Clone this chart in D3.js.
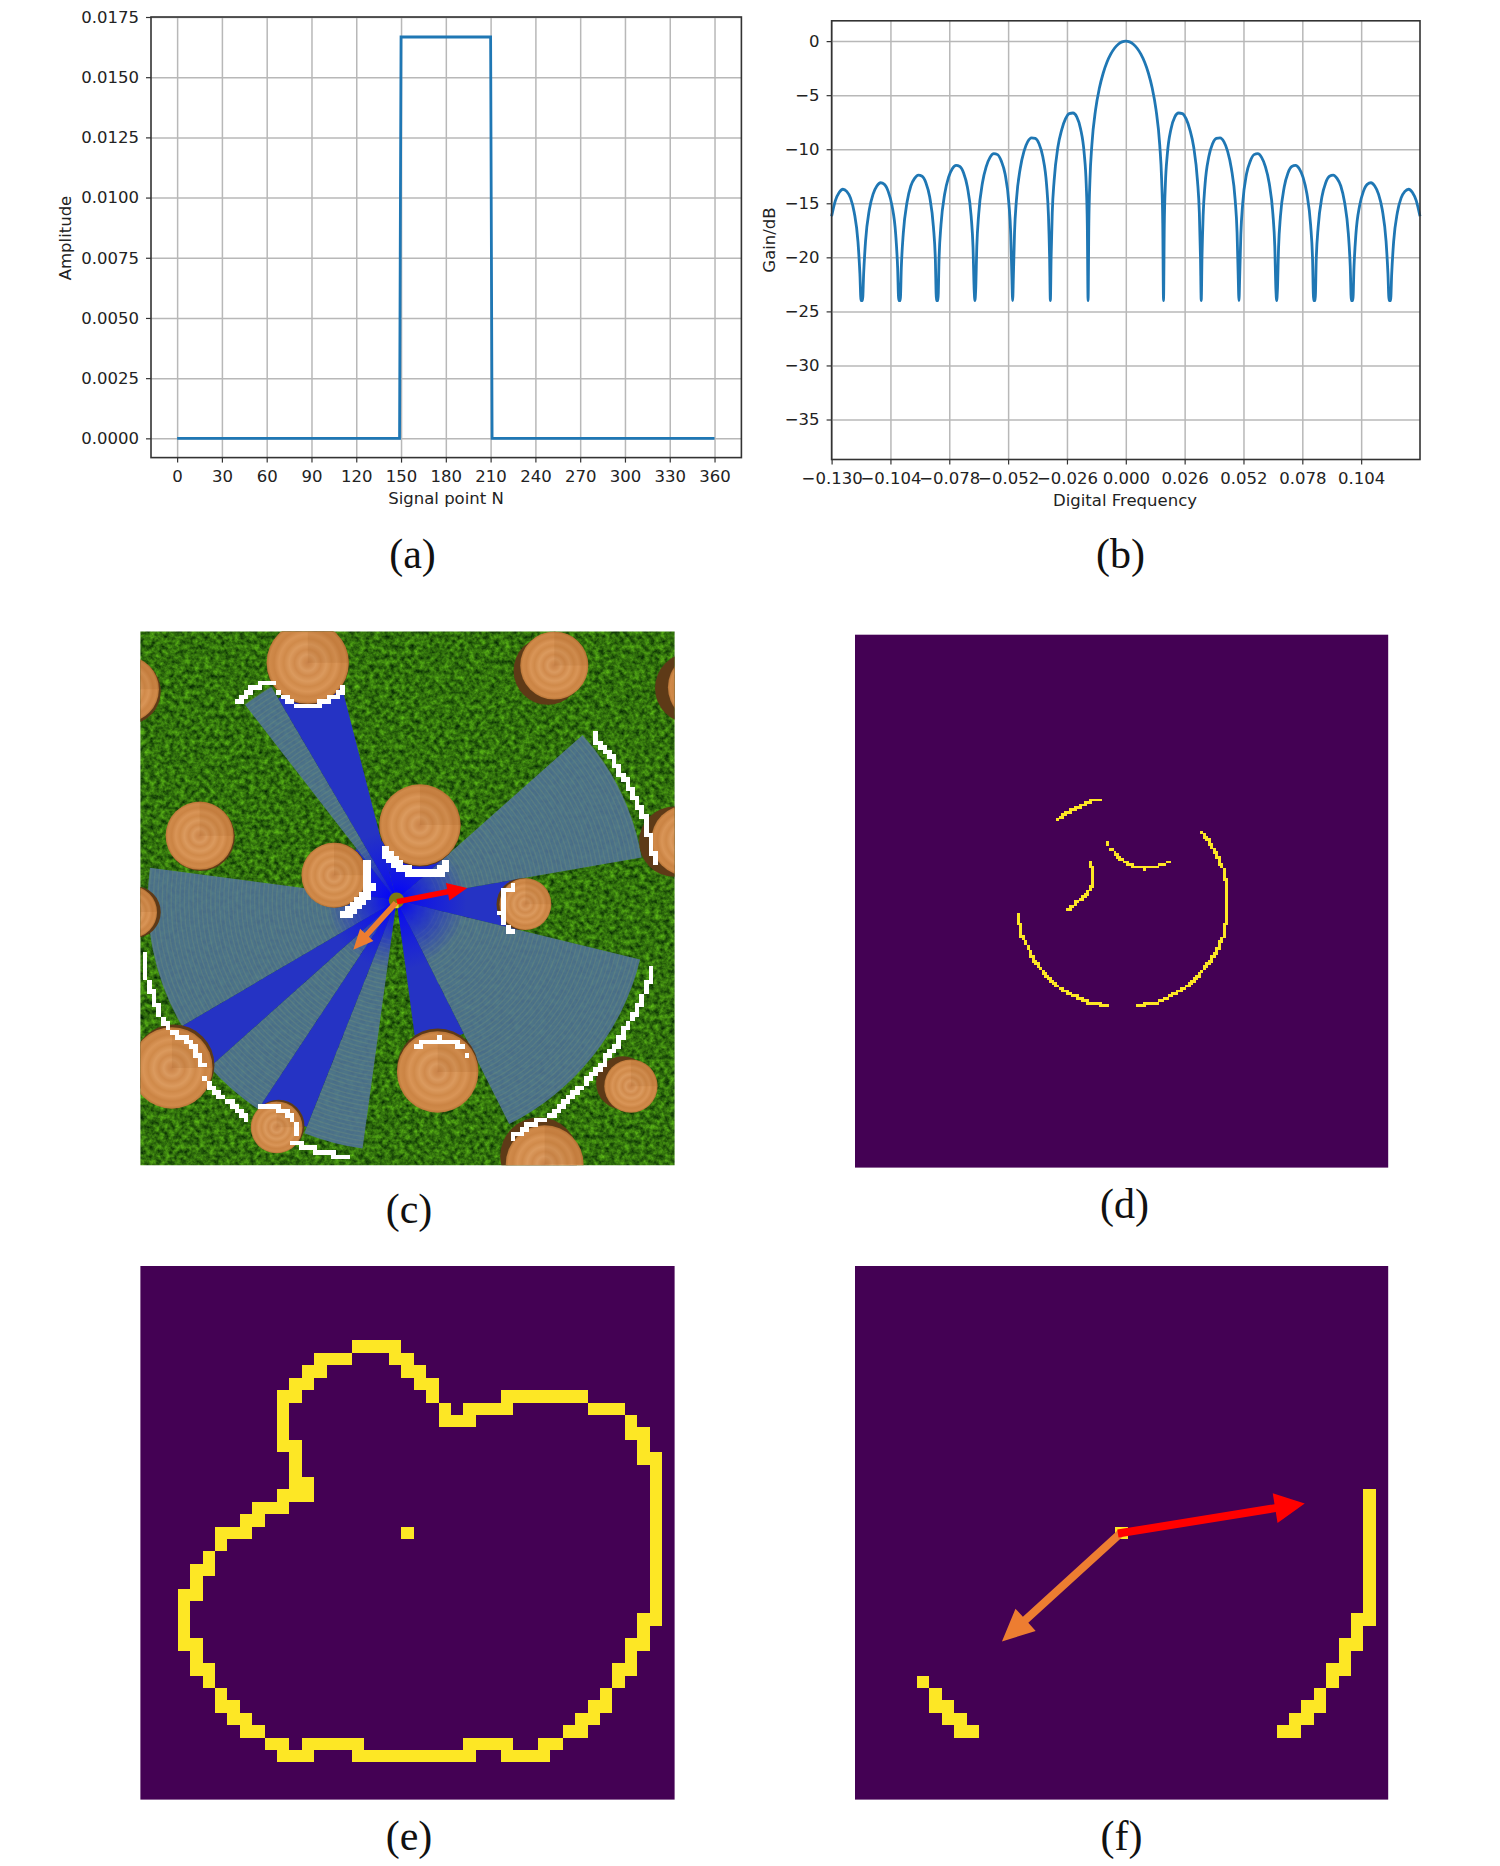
<!DOCTYPE html>
<html lang="en">

<head>
    <meta charset="UTF-8">
    <title>Panels a-f</title>
    <style>
        html, body { margin: 0; padding: 0; background: #fff; }
        text { font-family: "DejaVu Sans", sans-serif; fill: #222; }
        .caption { font-family: "Liberation Serif", serif; font-size: 42px; fill: #111; text-anchor: middle; }
    </style>
</head>

<body>
    <div id="my_dataviz"></div>
    <script src="https://d3js.org/d3.v7.min.js"></script>
    <script>

        // (a) rectangular window
        var windowN = [0, 149, 150, 210, 211, 360];
        var windowAmp = [0, 0, 0.01667, 0.01667, 0, 0];
        var windowXTicks = [0, 30, 60, 90, 120, 150, 180, 210, 240, 270, 300, 330, 360];
        var windowYTicks = [0, 0.0025, 0.005, 0.0075, 0.01, 0.0125, 0.015, 0.0175];

        // (b) gain curve, frequency read in bins of 1/60
        var gainBin = [-7.8, -7.7, -7.6, -7.5, -7.4, -7.3, -7.2, -7.1, -7.05, -7.02, -7,
            -6.98, -6.95, -6.9, -6.8, -6.7, -6.6, -6.5, -6.4, -6.3, -6.2, -6.1, -6.05, -6.02, -6,
            -5.98, -5.95, -5.9, -5.8, -5.7, -5.6, -5.5, -5.4, -5.3, -5.2, -5.1, -5.05, -5.02, -5,
            -4.98, -4.95, -4.9, -4.8, -4.7, -4.6, -4.5, -4.4, -4.3, -4.2, -4.1, -4.05, -4.02, -4,
            -3.98, -3.95, -3.9, -3.8, -3.7, -3.6, -3.5, -3.4, -3.3, -3.2, -3.1, -3.05, -3.02, -3,
            -2.98, -2.95, -2.9, -2.8, -2.7, -2.6, -2.5, -2.4, -2.3, -2.2, -2.1, -2.05, -2.02, -2,
            -1.98, -1.95, -1.9, -1.8, -1.7, -1.6, -1.5, -1.4, -1.3, -1.2, -1.1, -1.05, -1.02, -1,
            -0.98, -0.95, -0.9, -0.8, -0.7, -0.6, -0.5, -0.4, -0.3, -0.2, -0.1, 0,
            0.1, 0.2, 0.3, 0.4, 0.5, 0.6, 0.7, 0.8, 0.9, 0.95, 0.98,
            1, 1.02, 1.05, 1.1, 1.2, 1.3, 1.4, 1.5, 1.6, 1.7, 1.8, 1.9, 1.95, 1.98,
            2, 2.02, 2.05, 2.1, 2.2, 2.3, 2.4, 2.5, 2.6, 2.7, 2.8, 2.9, 2.95, 2.98,
            3, 3.02, 3.05, 3.1, 3.2, 3.3, 3.4, 3.5, 3.6, 3.7, 3.8, 3.9, 3.95, 3.98,
            4, 4.02, 4.05, 4.1, 4.2, 4.3, 4.4, 4.5, 4.6, 4.7, 4.8, 4.9, 4.95, 4.98,
            5, 5.02, 5.05, 5.1, 5.2, 5.3, 5.4, 5.5, 5.6, 5.7, 5.8, 5.9, 5.95, 5.98,
            6, 6.02, 6.05, 6.1, 6.2, 6.3, 6.4, 6.5, 6.6, 6.7, 6.8, 6.9, 6.95, 6.98,
            7, 7.02, 7.05, 7.1, 7.2, 7.3, 7.4, 7.5, 7.6, 7.7, 7.8];
        var gainDb = [-16.2, -14.75, -14.0, -13.7, -13.9, -14.5, -15.85, -18.6, -21.5, -24, -24,
            -24, -21.5, -18.5, -15.6, -14.15, -13.4, -13.1, -13.25, -13.9, -15.2, -17.9, -20.9, -24, -24,
            -24, -20.8, -17.8, -14.9, -13.4, -12.7, -12.4, -12.5, -13.1, -14.4, -17.2, -20.1, -24, -24,
            -24, -20.0, -17.0, -14.1, -12.6, -11.8, -11.5, -11.6, -12.2, -13.5, -16.2, -19.1, -23.0, -24,
            -23.0, -19.0, -16.0, -13.1, -11.6, -10.75, -10.4, -10.5, -11.1, -12.3, -15.0, -17.9, -21.8, -24,
            -21.7, -17.7, -14.7, -11.8, -10.2, -9.3, -8.95, -9.0, -9.5, -10.7, -13.3, -16.2, -20.0, -24,
            -20.0, -15.9, -12.9, -9.8, -8.2, -7.2, -6.7, -6.65, -7.0, -8.1, -10.5, -13.2, -17.1, -24,
            -16.9, -12.8, -9.62, -6.31, -4.34, -2.97, -1.96, -1.21, -0.66, -0.29, -0.07, 0,
            -0.07, -0.29, -0.66, -1.21, -1.96, -2.97, -4.34, -6.31, -9.62, -12.8, -16.9,
            -24, -17.1, -13.2, -10.5, -8.1, -7.0, -6.65, -6.7, -7.2, -8.2, -9.8, -12.9, -15.9, -20.0,
            -24, -20.0, -16.2, -13.3, -10.7, -9.5, -9.0, -8.95, -9.3, -10.2, -11.8, -14.7, -17.7, -21.7,
            -24, -21.8, -17.9, -15.0, -12.3, -11.1, -10.5, -10.4, -10.75, -11.6, -13.1, -16.0, -19.0, -23.0,
            -24, -23.0, -19.1, -16.2, -13.5, -12.2, -11.6, -11.5, -11.8, -12.6, -14.1, -17.0, -20.0, -24,
            -24, -24, -20.1, -17.2, -14.4, -13.1, -12.5, -12.4, -12.7, -13.4, -14.9, -17.8, -20.8, -24,
            -24, -24, -20.9, -17.9, -15.2, -13.9, -13.25, -13.1, -13.4, -14.15, -15.6, -18.5, -21.5, -24,
            -24, -24, -21.5, -18.6, -15.85, -14.5, -13.9, -13.7, -14.0, -14.75, -16.2];
        var gainXTicks = [-0.13, -0.104, -0.078, -0.052, -0.026, 0, 0.026, 0.052, 0.078, 0.104];
        var gainYTicks = [0, -5, -10, -15, -20, -25, -30, -35];

        // (c) scene, all read in one unit: 1443 across the panel, offset as read
        var stumpX = [507, 15, 1173, 1575, 215, 810, 578, 1095, 1530, 30, 140, 858, 423, 1380, 1147, 905];
        var stumpY = [108, 175, 115, 170, 545, 518, 645, 718, 557, 738, 1132, 1142, 1282, 1178, 1375, -75];
        var stumpR = [111, 90, 92, 95, 92, 110, 88, 70, 95, 70, 110, 110, 70, 72, 105, 105];
        var shadowX = [507, 20, 1155, 1540, 218, 810, 580, 1087, 1497, 40, 145, 858, 428, 1358, 1132, 905];
        var shadowY = [110, 180, 128, 172, 548, 520, 645, 718, 560, 738, 1125, 1135, 1278, 1170, 1355, -78];

        // sectors, degrees clockwise from north
        var farStart = [-37.8, 48.4, 103.7, 187.8, 213.5, 239.6];
        var farEnd = [-30.4, 80.1, 153.3, 201.6, 228.2, 277.5];
        var farReach = [668, 672, 677, 677, 677, 672];
        var nearStart = [-30.4, -14.4, 80.1, 153.3, 201.6, 228.2, 277.5];
        var nearEnd = [-14.4, 48.4, 103.7, 172.4, 213.5, 239.6, 322.2];
        var nearReach = [632, 165, 336, 403, 659, 669, 175];

        var whiteArcs = [
            [[320, 205], [335, 192], [345, 185], [365, 172], [390, 162], [410, 160]],
            [[428, 183], [436, 190]],
            [[450, 197], [463, 207]],
            [[480, 215], [530, 215], [545, 208], [560, 205], [572, 195], [585, 190], [595, 180], [605, 172]],
            [[1065, 675], [1050, 682], [1040, 690], [1035, 715], [1030, 740], [1038, 760], [1045, 775], [1062, 792]],
            [[1285, 290], [1290, 310], [1310, 328], [1330, 345], [1345, 380], [1365, 405], [1380, 425], [1395, 455], [1410, 485], [1425, 530], [1440, 590], [1452, 607]],
            [[1438, 878], [1425, 925], [1405, 965], [1390, 995], [1375, 1020], [1358, 1048], [1340, 1075], [1320, 1100], [1300, 1125], [1280, 1148], [1260, 1170], [1235, 1192], [1210, 1215], [1188, 1235], [1165, 1255], [1115, 1275], [1060, 1305]],
            [[800, 1075], [830, 1065], [860, 1060], [890, 1065], [920, 1075]],
            [[933, 1097], [936, 1100]],
            [[62, 845], [70, 900], [80, 925], [90, 950], [100, 975], [110, 1000], [130, 1035], [170, 1055], [200, 1080], [215, 1110], [228, 1130]],
            [[228, 1155], [240, 1172], [255, 1190], [290, 1215], [320, 1240], [345, 1262]],
            [[378, 1227], [420, 1228], [450, 1245], [465, 1262]],
            [[475, 1280], [475, 1295]],
            [[470, 1323], [520, 1338], [570, 1350], [620, 1358]]
        ];
        var whiteArcsThick = [
            [[708, 575], [725, 597], [745, 615], [770, 630], [795, 638], [840, 638], [865, 630], [878, 618]],
            [[665, 615], [665, 650], [672, 670], [655, 695], [630, 720], [605, 738]]
        ];
        var sceneOrigin = [747, 708];
        var sceneRed = [[748, 712], [938, 677]];
        var sceneOrange = [[745, 715], [630, 833]];

        // (d) returned points, fine grid, read as polylines
        var scanArcs = [
            [[173, 89], [187, 78], [205, 65], [225, 56], [240, 48], [257, 40], [272, 33], [296, 32]],
            [[322, 158], [325, 160]],
            [[333, 175], [347, 190], [358, 206], [375, 215], [392, 224], [403, 232], [418, 227], [430, 235], [460, 230]],
            [[472, 228], [490, 222]],
            [[503, 214], [506, 214]],
            [[267, 212], [270, 228], [277, 236], [276, 285], [262, 305], [248, 325], [230, 335], [220, 348], [205, 356]],
            [[606, 127], [620, 145], [632, 165], [648, 190], [660, 220], [672, 240], [673, 265], [680, 270], [680, 400], [672, 405], [672, 435], [660, 455], [648, 485], [635, 505], [620, 525], [600, 548], [575, 578], [545, 598], [520, 612], [490, 628], [465, 640], [435, 642], [430, 649], [408, 649]],
            [[55, 370], [55, 403], [63, 405], [65, 435], [85, 475], [100, 510], [125, 540], [160, 578], [190, 600], [225, 618], [255, 632], [270, 641], [298, 642], [302, 649], [320, 649]]
        ];

        // (e) occupied cells on the 43 x 43 map: row, first column, last column
        var outlineRuns = [
            [6, 17, 20], [7, 14, 16], [7, 20, 21], [8, 13, 14], [8, 21, 22], [9, 12, 13], [9, 22, 23],
            [10, 11, 12], [10, 23, 23], [10, 29, 35], [11, 11, 11], [11, 24, 24], [11, 26, 29], [11, 36, 38],
            [12, 11, 11], [12, 24, 26], [12, 39, 39], [13, 11, 11], [13, 39, 40], [14, 11, 12], [14, 40, 40],
            [15, 12, 12], [15, 40, 41], [16, 12, 12], [16, 41, 41], [17, 12, 13], [17, 41, 41],
            [18, 11, 13], [18, 41, 41], [19, 9, 11], [19, 41, 41], [20, 8, 9], [20, 41, 41],
            [21, 6, 8], [21, 21, 21], [21, 41, 41], [22, 6, 6], [22, 41, 41], [23, 5, 5], [23, 41, 41],
            [24, 4, 5], [24, 41, 41], [25, 4, 4], [25, 41, 41], [26, 3, 4], [26, 41, 41], [27, 3, 3], [27, 41, 41],
            [28, 3, 3], [28, 40, 41], [29, 3, 3], [29, 40, 40], [30, 3, 4], [30, 39, 40], [31, 4, 4], [31, 39, 39],
            [32, 4, 5], [32, 38, 39], [33, 5, 5], [33, 38, 38], [34, 6, 6], [34, 37, 37], [35, 6, 7], [35, 36, 37],
            [36, 7, 8], [36, 35, 36], [37, 8, 9], [37, 34, 35],
            [38, 10, 11], [38, 13, 17], [38, 26, 29], [38, 32, 33],
            [39, 11, 13], [39, 17, 26], [39, 29, 32]
        ];

        // (f) frontier cells and the two headings, in map cells
        var frontierRuns = [
            [18, 41, 41], [19, 41, 41], [20, 41, 41], [21, 21, 21], [21, 41, 41], [22, 41, 41], [23, 41, 41],
            [24, 41, 41], [25, 41, 41], [26, 41, 41], [27, 41, 41], [28, 40, 41], [29, 40, 40], [30, 39, 40],
            [31, 39, 39], [32, 38, 39], [33, 5, 5], [33, 38, 38], [34, 6, 6], [34, 37, 37], [35, 6, 7], [35, 36, 37],
            [36, 7, 8], [36, 35, 36], [37, 8, 9], [37, 34, 35]
        ];
        var mapRed = [[21.2, 21.56], [36.27, 19.13]];
        var mapOrange = [[21.5, 21.46], [11.85, 30.25]];

        var captions = ["(a)", "(b)", "(c)", "(d)", "(e)", "(f)"];

        var blue = "#1f77b4", purple = "#440154", yellow = "#fde725";

        var svg = d3.select("#my_dataviz")
            .append("svg")
            .attr("width", 1500)
            .attr("height", 1866);
        var defs = svg.append("defs");

        // line plots, both in the same matplotlib look
        function linePlot(box, x, y, xTicks, yTicks, xFormat, yFormat) {
            var g = svg.append("g");
            g.append("g")
                .attr("transform", "translate(0," + box.bottom + ")")
                .call(d3.axisBottom(x).tickValues(xTicks).tickSize(box.top - box.bottom).tickFormat(""))
                .call(function (s) { s.select(".domain").remove(); })
                .selectAll("line").attr("stroke", "#b8b8b8").attr("stroke-width", 1.5);
            g.append("g")
                .attr("transform", "translate(" + box.left + ",0)")
                .call(d3.axisLeft(y).tickValues(yTicks).tickSize(box.left - box.right).tickFormat(""))
                .call(function (s) { s.select(".domain").remove(); })
                .selectAll("line").attr("stroke", "#b8b8b8").attr("stroke-width", 1.5);

            var xAxis = g.append("g")
                .attr("transform", "translate(0," + box.bottom + ")")
                .call(d3.axisBottom(x).tickValues(xTicks).tickFormat(xFormat).tickSize(5).tickPadding(8).tickSizeOuter(0));
            var yAxis = g.append("g")
                .attr("transform", "translate(" + box.left + ",0)")
                .call(d3.axisLeft(y).tickValues(yTicks).tickFormat(yFormat).tickSize(5).tickPadding(7).tickSizeOuter(0));
            [xAxis, yAxis].forEach(function (a) {
                a.select(".domain").remove();
                a.selectAll("line").attr("stroke", "#333").attr("stroke-width", 1.2);
                a.selectAll("text").style("font-family", '"DejaVu Sans"').style("font-size", "16.5px").attr("fill", "#222");
            });
            return g;
        }

        function frame(g, box) {
            g.append("rect")
                .attr("x", box.left).attr("y", box.top)
                .attr("width", box.right - box.left).attr("height", box.bottom - box.top)
                .attr("fill", "none").attr("stroke", "#333").attr("stroke-width", 1.6);
        }

        function axisTitle(x, y, label, rotate) {
            svg.append("text")
                .attr("transform", "translate(" + x + "," + y + ")" + (rotate ? "rotate(-90)" : ""))
                .attr("text-anchor", "middle")
                .attr("dominant-baseline", "middle")
                .style("font-size", "16.5px")
                .text(label);
        }

        // (a)
        var boxA = { left: 151, right: 741.4, top: 17, bottom: 457.6 };
        var xA = d3.scaleLinear().domain([-17.5, 378]).range([boxA.left, boxA.right]);
        var yA = d3.scaleLinear().domain([-0.0008, 0.0175]).range([boxA.bottom, boxA.top]);
        var plotA = linePlot(boxA, xA, yA, windowXTicks, windowYTicks, d3.format("d"), d3.format(".4f"));
        plotA.append("path")
            .datum(windowN)
            .attr("fill", "none").attr("stroke", blue).attr("stroke-width", 2.8)
            .attr("d", d3.line().x(function (d) { return xA(d); }).y(function (d, i) { return yA(windowAmp[i]); }));
        frame(plotA, boxA);
        axisTitle(446, 499.6, "Signal point N");
        axisTitle(66, 238, "Amplitude", true);

        // (b)
        var boxB = { left: 831.6, right: 1420, top: 20.8, bottom: 459.5 };
        var xB = d3.scaleLinear().domain([-0.13, 0.13]).range([boxB.left, boxB.right]);
        var yB = d3.scaleLinear().domain([-38.7, 1.88]).range([boxB.bottom, boxB.top]);
        var plotB = linePlot(boxB, xB, yB, gainXTicks, gainYTicks, d3.format(".3f"), d3.format("d"));
        plotB.append("path")
            .datum(gainBin)
            .attr("fill", "none").attr("stroke", blue).attr("stroke-width", 2.8)
            .attr("d", d3.line().curve(d3.curveMonotoneX)
                .x(function (d) { return xB(d / 60); })
                .y(function (d, i) { return yB(gainDb[i]); }));
        frame(plotB, boxB);
        axisTitle(1125, 501, "Digital Frequency");
        axisTitle(770, 240, "Gain/dB", true);

        // image panels share one size
        var boxC = { left: 140.4, right: 674.6, top: 631.5, bottom: 1165.3 };
        var boxD = { left: 855, right: 1388.2, top: 634.7, bottom: 1167.6 };
        var boxE = { left: 140.4, right: 674.6, top: 1266, bottom: 1799.6 };
        var boxF = { left: 855, right: 1388.2, top: 1266, bottom: 1799.6 };

        function arrow(sel, p0, p1, colour, shaft, headLen, headWid) {
            var dx = p1[0] - p0[0], dy = p1[1] - p0[1], len = Math.hypot(dx, dy);
            var ux = dx / len, uy = dy / len, nx = -uy, ny = ux;
            var bx = p1[0] - ux * headLen, by = p1[1] - uy * headLen;
            var pts = [
                [p0[0] + nx * shaft / 2, p0[1] + ny * shaft / 2],
                [bx + nx * shaft / 2, by + ny * shaft / 2],
                [bx + nx * headWid / 2, by + ny * headWid / 2],
                p1,
                [bx - nx * headWid / 2, by - ny * headWid / 2],
                [bx - nx * shaft / 2, by - ny * shaft / 2],
                [p0[0] - nx * shaft / 2, p0[1] - ny * shaft / 2]
            ];
            sel.append("polygon").attr("points", pts.join(" ")).attr("fill", colour);
        }

        // walk a read polyline and paint the raster cells it passes through
        function pixelArc(sel, pts, cell, size, colour) {
            var seen = {};
            pts.slice(1).forEach(function (p, i) {
                var q = pts[i];
                var steps = Math.ceil(Math.hypot(p[0] - q[0], p[1] - q[1]) / (cell / 3)) || 1;
                d3.range(steps + 1).forEach(function (k) {
                    var cx = Math.floor((q[0] + (p[0] - q[0]) * k / steps) / cell);
                    var cy = Math.floor((q[1] + (p[1] - q[1]) * k / steps) / cell);
                    if (seen[cx + "," + cy]) return;
                    seen[cx + "," + cy] = true;
                    sel.append("rect")
                        .attr("x", cx * cell).attr("y", cy * cell)
                        .attr("width", size).attr("height", size)
                        .attr("fill", colour)
                        .style("shape-rendering", "crispEdges");
                });
            });
        }

        // (c) grass from noise
        var grass = defs.append("filter").attr("id", "grass")
            .attr("x", 0).attr("y", 0).attr("width", 1).attr("height", 1)
            .attr("color-interpolation-filters", "sRGB");
        grass.append("feTurbulence")
            .attr("type", "fractalNoise").attr("baseFrequency", 0.2).attr("numOctaves", 3).attr("seed", 7);
        grass.append("feColorMatrix").attr("type", "matrix")
            .attr("values", "0.45 0 0 0 -0.03  0.75 0 0 0 0.07  0.1 0 0 0 0  0 0 0 0 1");

        defs.append("clipPath").attr("id", "sceneClip").append("rect")
            .attr("x", boxC.left).attr("y", boxC.top)
            .attr("width", boxC.right - boxC.left).attr("height", boxC.bottom - boxC.top);

        var sceneX = d3.scaleLinear().domain([55, 1498]).range([boxC.left, boxC.right]);
        var sceneY = d3.scaleLinear().domain([29, 1378]).range([boxC.top, boxC.bottom]);
        var sceneR = d3.scaleLinear().domain([0, 1443]).range([0, boxC.right - boxC.left]);

        var ox = sceneX(sceneOrigin[0]), oy = sceneY(sceneOrigin[1]);

        // rays pile up towards the robot
        var glow = defs.append("radialGradient").attr("id", "glow")
            .attr("gradientUnits", "userSpaceOnUse").attr("cx", 0).attr("cy", 0).attr("r", 70);
        glow.append("stop").attr("offset", 0).attr("stop-color", "#0000ff").attr("stop-opacity", 1);
        glow.append("stop").attr("offset", 0.3).attr("stop-color", "#0808f5").attr("stop-opacity", 0.7);
        glow.append("stop").attr("offset", 1).attr("stop-color", "#0808f5").attr("stop-opacity", 0);

        var wood = defs.append("radialGradient").attr("id", "wood");
        [[0, "#c9834a"], [0.1, "#d18c50"], [0.2, "#da9a60"], [0.32, "#d08a4c"], [0.45, "#db9a5e"],
            [0.58, "#d08a4a"], [0.7, "#d99557"], [0.82, "#cb8444"], [0.93, "#d08a4a"], [1, "#b97536"]]
            .forEach(function (s) {
                wood.append("stop").attr("offset", s[0]).attr("stop-color", s[1]);
            });

        var scene = svg.append("g").attr("clip-path", "url(#sceneClip)");
        scene.append("rect")
            .attr("x", boxC.left).attr("y", boxC.top)
            .attr("width", boxC.right - boxC.left).attr("height", boxC.bottom - boxC.top)
            .attr("filter", "url(#grass)");

        var rad = Math.PI / 180;
        var sectorArc = d3.arc().innerRadius(0);
        var sectors = scene.append("g").attr("transform", "translate(" + ox + "," + oy + ")");

        farStart.forEach(function (a, i) {
            var r = sceneR(farReach[i]);
            sectors.append("path")
                .attr("d", sectorArc({ startAngle: a * rad, endAngle: farEnd[i] * rad, outerRadius: r }))
                .attr("fill", "#4f7296").attr("fill-opacity", 0.9);
            // faint range rings left by the scan
            d3.range(40, r, 4.4).forEach(function (ring) {
                sectors.append("path")
                    .attr("d", d3.arc().innerRadius(ring).outerRadius(ring + 1.4)({ startAngle: a * rad, endAngle: farEnd[i] * rad }))
                    .attr("fill", "#7f9a78").attr("fill-opacity", 0.25);
            });
        });
        nearStart.forEach(function (a, i) {
            sectors.append("path")
                .attr("d", sectorArc({ startAngle: a * rad, endAngle: nearEnd[i] * rad, outerRadius: sceneR(nearReach[i]) }))
                .attr("fill", "#2533c4");
        });
        farStart.concat(nearStart).forEach(function (a, i) {
            var end = farEnd.concat(nearEnd)[i];
            sectors.append("path")
                .attr("d", sectorArc({ startAngle: a * rad, endAngle: end * rad, outerRadius: 70 }))
                .attr("fill", "url(#glow)");
        });

        stumpX.forEach(function (cx, i) {
            scene.append("circle")
                .attr("cx", sceneX(shadowX[i])).attr("cy", sceneY(shadowY[i]))
                .attr("r", sceneR(stumpR[i]))
                .attr("fill", "#5e3a17");
            // the top of the log sits over its own side
            scene.append("circle")
                .attr("cx", sceneX(cx)).attr("cy", sceneY(stumpY[i]))
                .attr("r", sceneR(stumpR[i]))
                .attr("fill", "url(#wood)");
            scene.append("path")
                .attr("transform", "translate(" + sceneX(cx) + "," + sceneY(stumpY[i]) + ")")
                .attr("d", d3.arc().innerRadius(0).outerRadius(sceneR(stumpR[i]))({ startAngle: 0, endAngle: Math.PI / 2 }))
                .attr("fill", "#8a4a14").attr("fill-opacity", 0.12);
        });

        function scenePoints(a) {
            return a.map(function (p) { return [sceneX(p[0]), sceneY(p[1])]; });
        }
        whiteArcs.forEach(function (a) { pixelArc(scene, scenePoints(a), 4.6, 4.6, "#fff"); });
        whiteArcsThick.forEach(function (a) { pixelArc(scene, scenePoints(a), 4.6, 7.5, "#fff"); });

        scene.append("circle").attr("cx", ox).attr("cy", oy).attr("r", sceneR(21)).attr("fill", "#7d7a12");
        scene.append("rect").attr("x", ox - 2).attr("y", oy + 3).attr("width", 4).attr("height", 5).attr("fill", "#e8e020");
        arrow(scene, scenePoints(sceneOrange)[0], scenePoints(sceneOrange)[1], "#ed7d31", 5.6, 20, 18);
        arrow(scene, scenePoints(sceneRed)[0], scenePoints(sceneRed)[1], "#ff0000", 5.6, 20, 18);

        // (d)
        var scanX = d3.scaleLinear().domain([0, 780]).range([1000, 1260]);
        var scanY = d3.scaleLinear().domain([0, 750]).range([790, 1040]);
        svg.append("rect")
            .attr("x", boxD.left).attr("y", boxD.top)
            .attr("width", boxD.right - boxD.left).attr("height", boxD.bottom - boxD.top)
            .attr("fill", purple);
        scanArcs.forEach(function (a) {
            pixelArc(svg, a.map(function (p) { return [scanX(p[0]), scanY(p[1])]; }), 2.48, 2.9, yellow);
        });

        // (e), (f)
        function mapPanel(box, runs) {
            var x = d3.scaleLinear().domain([0, 43]).range([box.left, box.right]);
            var y = d3.scaleLinear().domain([0, 43]).range([box.top, box.bottom]);
            svg.append("rect")
                .attr("x", box.left).attr("y", box.top)
                .attr("width", box.right - box.left).attr("height", box.bottom - box.top)
                .attr("fill", purple);
            svg.append("g").selectAll("rect")
                .data(runs)
                .enter()
                .append("rect")
                .attr("x", function (d) { return x(d[1]); })
                .attr("y", function (d) { return y(d[0]); })
                .attr("width", function (d) { return x(d[2] + 1) - x(d[1]); })
                .attr("height", y(1) - y(0))
                .attr("fill", yellow)
                .style("shape-rendering", "crispEdges");
            return { x: x, y: y };
        }
        mapPanel(boxE, outlineRuns);
        var mapF = mapPanel(boxF, frontierRuns);
        function mapPoint(p) { return [mapF.x(p[0]), mapF.y(p[1])]; }
        arrow(svg, mapPoint(mapOrange[0]), mapPoint(mapOrange[1]), "#ed7d31", 8, 32, 30);
        arrow(svg, mapPoint(mapRed[0]), mapPoint(mapRed[1]), "#ff0000", 8, 30, 30);

        // captions
        var captionX = [412.5, 1120.6, 409, 1124.6, 409, 1121.6];
        var captionY = [567.5, 567.5, 1222.6, 1218, 1849.6, 1849.6];
        svg.selectAll(".caption")
            .data(captions)
            .enter()
            .append("text")
            .attr("class", "caption")
            .attr("x", function (d, i) { return captionX[i]; })
            .attr("y", function (d, i) { return captionY[i]; })
            .text(function (d) { return d; });

    </script>
</body>

</html>
